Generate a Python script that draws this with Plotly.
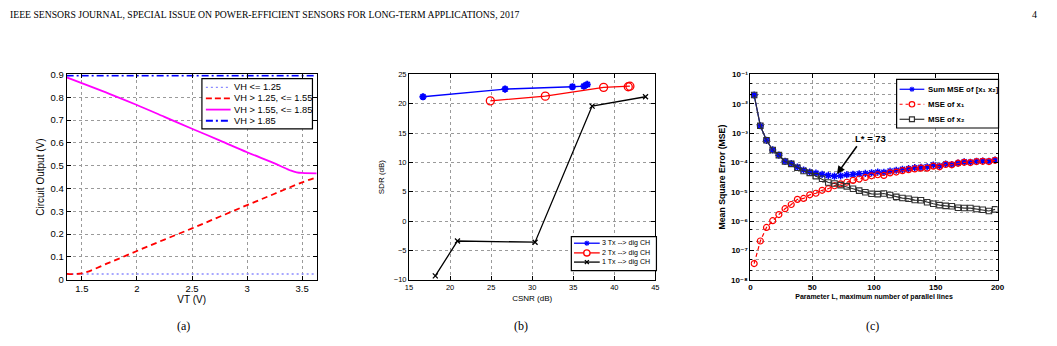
import math
import plotly.graph_objects as go

# ---------------- data: panel (a) ----------------
vt_flat = [1.362, 3.632]
vh_low = [0.025, 0.025]
vt_red = [1.362, 1.5, 1.75, 2.0, 2.25, 2.5, 2.75, 3.0, 3.25, 3.5, 3.632]
vh_mid = [0.026, 0.028, 0.075, 0.126, 0.176, 0.225, 0.276, 0.327, 0.377, 0.427, 0.449]
vt_mag = [1.362, 1.75, 2.0, 2.25, 2.5, 2.75, 3.0, 3.25, 3.4, 3.45, 3.5, 3.632]
vh_high = [0.887, 0.815, 0.766, 0.714, 0.662, 0.611, 0.559, 0.51, 0.478, 0.471, 0.468, 0.466]
vh_top = [0.895, 0.895]
legend_a = ["VH <= 1.25", "VH > 1.25, <= 1.55", "VH > 1.55, <= 1.85", "VH > 1.85"]

# ---------------- data: panel (b) ----------------
csnr_3tx = [16.7, 26.7, 34.9, 36.3, 36.7]
sdr_3tx = [21.2, 22.5, 22.9, 23.0, 23.3]
csnr_2tx = [24.9, 31.6, 38.7, 41.7, 41.9]
sdr_2tx = [20.5, 21.3, 22.8, 22.9, 23.0]
csnr_1tx = [18.2, 20.9, 30.35, 37.3, 43.8]
sdr_1tx = [-9.35, -3.4, -3.6, 19.6, 21.2]
legend_b = ["3 Tx --> dig CH", "2 Tx --> dig CH", "1 Tx --> dig CH"]

# ---------------- data: panel (c) ----------------
L = [3, 8, 13, 18, 23, 28, 33, 38, 43, 48, 53, 58, 63, 68, 73, 78, 83, 88, 93, 98,
     103, 108, 113, 118, 123, 128, 133, 138, 143, 148, 153, 158, 163, 168, 173, 178, 183, 188, 193, 198]
mse_sum = [1.98e-2, 1.78e-3, 5.69e-4, 2.66e-4, 1.77e-4, 1.09e-4, 9.2e-5, 6.9e-5, 5.5e-5, 4.7e-5,
           4.3e-5, 3.9e-5, 3.6e-5, 3.4e-5, 3.5e-5, 3.8e-5, 3.9e-5, 4.1e-5, 4.2e-5, 4.4e-5,
           4.7e-5, 4.6e-5, 5.1e-5, 5.4e-5, 5.8e-5, 6.1e-5, 6.6e-5, 6.8e-5, 7.1e-5, 8.1e-5,
           7.5e-5, 8.7e-5, 8.5e-5, 9.4e-5, 1.04e-4, 1.01e-4, 1.09e-4, 1.12e-4, 1.09e-4, 1.21e-4]
mse_x1 = [3.56e-8, 2.09e-7, 6.07e-7, 1.03e-6, 1.67e-6, 2.64e-6, 3.67e-6, 5.5e-6, 5.9e-6, 7.85e-6,
          8.9e-6, 1.12e-5, 1.27e-5, 1.6e-5, 1.86e-5, 2.11e-5, 2.45e-5, 2.72e-5, 3.08e-5, 3.5e-5,
          3.8e-5, 3.6e-5, 4.4e-5, 4.7e-5, 5.25e-5, 5.7e-5, 6.0e-5, 6.4e-5, 6.4e-5, 7.5e-5,
          7.1e-5, 8.5e-5, 8.3e-5, 9.4e-5, 1.01e-4, 9.9e-5, 1.07e-4, 1.09e-4, 1.07e-4, 1.18e-4]
mse_x2 = [1.98e-2, 1.78e-3, 5.69e-4, 2.66e-4, 1.77e-4, 1.07e-4, 8.9e-5, 6.6e-5, 5.1e-5, 4.4e-5,
          3.4e-5, 2.79e-5, 2.06e-5, 1.91e-5, 1.68e-5, 1.52e-5, 1.27e-5, 1.09e-5, 9.6e-6, 8.5e-6,
          8.3e-6, 8.7e-6, 7.7e-6, 6.7e-6, 6.1e-6, 5.8e-6, 5.2e-6, 5.1e-6, 4.4e-6, 3.9e-6,
          3.5e-6, 3.3e-6, 3.2e-6, 2.85e-6, 2.78e-6, 2.78e-6, 2.57e-6, 2.44e-6, 2.21e-6, 2.5e-6]
legend_c = ["Sum MSE of [x\u2081 x\u2082]", "MSE of x\u2081", "MSE of x\u2082"]
c_ytick_vals = [1e-8, 1e-7, 1e-6, 1e-5, 1e-4, 1e-3, 1e-2, 1e-1]
c_ytick_text = ["10\u207b\u2078", "10\u207b\u2077", "10\u207b\u2076", "10\u207b\u2075",
                "10\u207b\u2074", "10\u207b\u00b3", "10\u207b\u00b2", "10\u207b\u00b9"]
L_opt = 73
L_opt_mse = 3.5e-5

W, H = 1057, 346
SANS = "Liberation Sans, Arial, DejaVu Sans, sans-serif"
SERIF = "Liberation Serif, Times New Roman, serif"

BLUE, RED, MAG, BLK, LBLUE, DGRAY = "#0000ff", "#ff0000", "#ff00ff", "#000000", "#8a8aff", "#303030"

fig = go.Figure()

# panel (a)
fig.add_trace(go.Scatter(x=vt_flat, y=vh_low, mode="lines", name=legend_a[0],
                         line=dict(color=LBLUE, dash="2px,3px", width=1.3), xaxis="x", yaxis="y"))
fig.add_trace(go.Scatter(x=vt_red, y=vh_mid, mode="lines", name=legend_a[1],
                         line=dict(color=RED, dash="6px,4px", width=1.8, shape="spline"),
                         xaxis="x", yaxis="y"))
fig.add_trace(go.Scatter(x=vt_mag, y=vh_high, mode="lines", name=legend_a[2],
                         line=dict(color=MAG, width=1.8, shape="spline"), xaxis="x", yaxis="y"))
fig.add_trace(go.Scatter(x=vt_flat, y=vh_top, mode="lines", name=legend_a[3],
                         line=dict(color=BLUE, dash="7px,3px,2px,3px", width=1.8), xaxis="x", yaxis="y"))

# panel (b)
fig.add_trace(go.Scatter(x=csnr_3tx, y=sdr_3tx, mode="lines+markers", name=legend_b[0],
                         line=dict(color=BLUE, width=1.3),
                         marker=dict(symbol="asterisk-open", size=6, color=BLUE,
                                     line=dict(color=BLUE, width=2)),
                         xaxis="x2", yaxis="y2"))
fig.add_trace(go.Scatter(x=csnr_2tx, y=sdr_2tx, mode="lines+markers", name=legend_b[1],
                         line=dict(color=RED, width=1.3),
                         marker=dict(symbol="circle-open", size=8, color=RED,
                                     line=dict(color=RED, width=1.3)),
                         xaxis="x2", yaxis="y2"))
fig.add_trace(go.Scatter(x=csnr_1tx, y=sdr_1tx, mode="lines+markers", name=legend_b[2],
                         line=dict(color=BLK, width=1.3),
                         marker=dict(symbol="x-thin-open", size=5, color=BLK,
                                     line=dict(color=BLK, width=1.3)),
                         xaxis="x2", yaxis="y2"))

# panel (c)
fig.add_trace(go.Scatter(x=L, y=mse_sum, mode="lines+markers", name="Sum MSE",
                         line=dict(color=BLUE, width=1.2),
                         marker=dict(symbol="asterisk-open", size=6, color=BLUE,
                                     line=dict(color=BLUE, width=1.5)),
                         xaxis="x3", yaxis="y3"))
fig.add_trace(go.Scatter(x=L, y=mse_x1, mode="lines+markers", name="MSE x1",
                         line=dict(color=RED, width=1.2, dash="4px,3px"),
                         marker=dict(symbol="circle-open", size=6, color=RED,
                                     line=dict(color=RED, width=1.2)),
                         xaxis="x3", yaxis="y3"))
fig.add_trace(go.Scatter(x=L, y=mse_x2, mode="lines+markers", name="MSE x2",
                         line=dict(color=DGRAY, width=1.2),
                         marker=dict(symbol="square-open", size=5.5, color=DGRAY,
                                     line=dict(color=DGRAY, width=1.1)),
                         xaxis="x3", yaxis="y3"))

y_dom = [1 - 282.7 / H, 1 - 70.7 / H]
grid = dict(showgrid=True, gridcolor="#9a9a9a", griddash="dot", gridwidth=1)
box = dict(showline=True, linecolor="black", linewidth=1, mirror="ticks", ticks="inside",
           ticklen=4, tickcolor="black", zeroline=False)

fig.update_layout(
    width=W, height=H, margin=dict(l=0, r=0, t=0, b=0),
    paper_bgcolor="white", plot_bgcolor="white", showlegend=False,
    font=dict(family=SANS, color="black"),
    xaxis=dict(domain=[63.3 / W, 316 / W], range=[1.362, 3.632], tickvals=[1.5, 2, 2.5, 3, 3.5],
               tickfont=dict(size=9.5), title=dict(text="VT (V)", font=dict(size=10), standoff=1),
               anchor="y", **grid, **box),
    yaxis=dict(domain=y_dom, range=[0, 0.9], tickvals=[0, 0.1, 0.2, 0.3, 0.4, 0.5, 0.6, 0.7, 0.8, 0.9],
               tickfont=dict(size=9.5), title=dict(text="Circuit Output (V)", font=dict(size=10), standoff=4),
               anchor="x", **grid, **box),
    xaxis2=dict(domain=[409.3 / W, 658.2 / W], range=[15, 45], tickvals=[15, 20, 25, 30, 35, 40, 45],
                tickfont=dict(size=7.5), title=dict(text="CSNR (dB)", font=dict(size=8), standoff=4),
                anchor="y2", **grid, **box),
    yaxis2=dict(domain=y_dom, range=[-10, 25], tickvals=[-10, -5, 0, 5, 10, 15, 20, 25],
                tickfont=dict(size=7.5), title=dict(text="SDR (dB)", font=dict(size=8), standoff=8),
                anchor="x2", **grid, **box),
    xaxis3=dict(domain=[754.3 / W, 1004 / W], range=[0, 200], tickvals=[0, 50, 100, 150, 200],
                tickfont=dict(size=8, weight="bold"),
                title=dict(text="Parameter L, maximum number of parallel lines",
                           font=dict(size=7, weight="bold"), standoff=2),
                anchor="y3", **grid, **box),
    yaxis3=dict(domain=y_dom, type="log", range=[-8, -1], tickvals=c_ytick_vals, ticktext=c_ytick_text,
                tickfont=dict(size=8, weight="bold"),
                title=dict(text="Mean Square Error (MSE)", font=dict(size=8.7, weight="bold"), standoff=3),
                minor=dict(showgrid=True, gridcolor="#9a9a9a", griddash="dot", gridwidth=1,
                           ticks="inside", ticklen=2, tickcolor="black"),
                anchor="x3", **grid, **box),
)


# ---------- hand-drawn legends (MATLAB-like compact boxes), pixel helpers ----------
def PX(x):
    return x / W


def PY(y):
    return 1 - y / H


def seg(x0, y0, x1, y1, color, width=1.3, dash="solid"):
    fig.add_shape(type="line", xref="paper", yref="paper", x0=PX(x0), y0=PY(y0), x1=PX(x1), y1=PY(y1),
                  line=dict(color=color, width=width, dash=dash))


def marker(kind, cx, cy, r, color, width=1.2):
    if kind == "circle":
        fig.add_shape(type="circle", xref="paper", yref="paper", x0=PX(cx - r), x1=PX(cx + r),
                      y0=PY(cy + r), y1=PY(cy - r), line=dict(color=color, width=width),
                      fillcolor="white")
    elif kind == "square":
        fig.add_shape(type="rect", xref="paper", yref="paper", x0=PX(cx - r), x1=PX(cx + r),
                      y0=PY(cy + r), y1=PY(cy - r), line=dict(color=color, width=width),
                      fillcolor="white")
    elif kind == "x":
        seg(cx - r, cy - r, cx + r, cy + r, color, width)
        seg(cx - r, cy + r, cx + r, cy - r, color, width)
    elif kind == "star":
        seg(cx - r, cy, cx + r, cy, color, width)
        seg(cx, cy - r, cx, cy + r, color, width)
        d = r * 0.72
        seg(cx - d, cy - d, cx + d, cy + d, color, width)
        seg(cx - d, cy + d, cx + d, cy - d, color, width)


def legend_box(x0, y0, x1, y1):
    fig.add_shape(type="rect", xref="paper", yref="paper", x0=PX(x0), x1=PX(x1), y0=PY(y1), y1=PY(y0),
                  line=dict(color="black", width=1.2), fillcolor="white")


def legend_text(text, x, y, size, bold=False):
    fig.add_annotation(text=text, xref="paper", yref="paper", x=PX(x), y=PY(y), xanchor="left",
                       yanchor="middle", showarrow=False,
                       font=dict(family=SANS, size=size, color="black", weight="bold" if bold else "normal"))


# legend (a)
legend_box(200, 75, 311.7, 127)
a_rows = [84, 95.5, 107, 118.5]
a_styles = [(LBLUE, "2px,3px", 1.3), (RED, "6px,3px", 1.8), (MAG, "solid", 1.8), (BLUE, "7px,3px,2px,3px", 1.8)]
for name, yy, (col, dsh, wd) in zip(legend_a, a_rows, a_styles):
    seg(204, yy, 229, yy, col, wd, dsh)
    legend_text(name, 230, yy, 9.3)

# legend (b)
legend_box(573.3, 238.3, 659.3, 273.3)
b_rows = [245, 255, 264.5]
b_styles = [(BLUE, "star", 2.6), (RED, "circle", 3.2), (BLK, "x", 2.0)]
for name, yy, (col, mk, r) in zip(legend_b, b_rows, b_styles):
    seg(576, yy, 602, yy, col, 1.3)
    marker(mk, 589, yy, r, col, 1.3)
    legend_text(name, 602.5, yy, 7.1)

# legend (c)
legend_box(902, 75.7, 1005, 126)
c_rows = [86, 101.5, 117]
c_styles = [(BLUE, "solid", "star", 2.6), (RED, "3px,3px", "circle", 2.8), (DGRAY, "solid", "square", 2.5)]
for name, yy, (col, dsh, mk, r) in zip(legend_c, c_rows, c_styles):
    seg(905, yy, 930, yy, col, 1.2, dsh)
    marker(mk, 917.5, yy, r, col, 1.2)
    legend_text(name, 932, yy, 7.8, bold=True)

# header and panel labels
fig.add_annotation(text="IEEE SENSORS JOURNAL, SPECIAL ISSUE ON POWER-EFFICIENT SENSORS FOR LONG-TERM APPLICATIONS, 2017",
                   xref="paper", yref="paper", x=PX(4), y=PY(9), xanchor="left", yanchor="middle",
                   showarrow=False, font=dict(family=SERIF, size=9.7, color="black"))
fig.add_annotation(text="4", xref="paper", yref="paper", x=PX(1041), y=PY(9), xanchor="center",
                   yanchor="middle", showarrow=False, font=dict(family=SERIF, size=10, color="black"))
for lab, cx in [("(a)", 181), ("(b)", 522), ("(c)", 878)]:
    fig.add_annotation(text=lab, xref="paper", yref="paper", x=PX(cx), y=PY(331),
                       xanchor="center", yanchor="middle", showarrow=False,
                       font=dict(family=SERIF, size=12, color="black"))

# L* annotation (panel c) - log axis positions given as log10
fig.add_annotation(text="", xref="x3", yref="y3", x=L_opt - 3, y=math.log10(L_opt_mse) + 0.06,
                   axref="x3", ayref="y3", ax=L_opt + 14, ay=-3.4,
                   showarrow=True, arrowhead=2, arrowsize=1, arrowwidth=1.6, arrowcolor="black")
fig.add_annotation(text=f"L* = {L_opt}", xref="x3", yref="y3", x=83, y=-3.18,
                   xanchor="left", yanchor="middle", showarrow=False,
                   font=dict(size=9.5, weight="bold", color="black"))

fig.write_html("out.html")
